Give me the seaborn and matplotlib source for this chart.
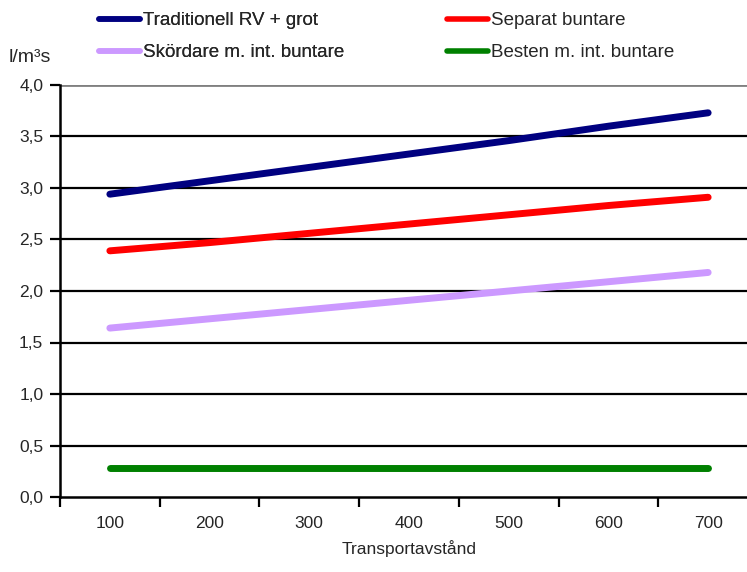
import numpy as np
import pandas as pd
import matplotlib
matplotlib.use("Agg")
import matplotlib.pyplot as plt
import seaborn as sns

# ================================
#  Data
# ================================
distances = ["100", "200", "300", "400", "500", "600", "700"]
traditionell = [2.94, 3.07, 3.20, 3.33, 3.46, 3.60, 3.73]
separat = [2.39, 2.47, 2.56, 2.65, 2.74, 2.83, 2.91]
skordare = [1.64, 1.73, 1.82, 1.91, 2.00, 2.09, 2.18]
besten = [0.28, 0.28, 0.28, 0.28, 0.28, 0.28, 0.28]

series_names = ["Traditionell RV + grot", "Separat buntare",
                "Skördare m. int. buntare", "Besten m. int. buntare"]
colors = ["#000080", "#FF0000", "#CC99FF", "#008000"]

df = pd.DataFrame({
    "Transportavstånd": distances * 4,
    "value": traditionell + separat + skordare + besten,
    "serie": np.repeat(series_names, len(distances)),
})

# ================================
#  Plot
# ================================
sns.set_style("white")
plt.rcParams["font.family"] = ["Liberation Sans", "DejaVu Sans"]
plt.rcParams["font.size"] = 12.5

fig = plt.figure(figsize=(7.47, 5.72), dpi=100)
ax = fig.add_axes([60 / 747, 1 - 497 / 572, 698 / 747, 412 / 572])

sns.lineplot(data=df, x="Transportavstånd", y="value", hue="serie",
             hue_order=series_names, palette=colors, linewidth=5,
             solid_capstyle="round", ax=ax, legend=True)

ax.set_xlim(-0.5, len(distances) - 0.5)
ax.set_ylim(0, 4.0)

# y ticks with comma decimals
yt = np.arange(0, 4.01, 0.5)
ax.set_yticks(yt)
ax.set_yticklabels([f"{v:.1f}".replace(".", ",") for v in yt])
for v in yt[1:]:
    ax.axhline(v, color="#808080" if v == 4.0 else "black",
               lw=2.0 if v == 4.0 else 1.6, zorder=0)

# x: labels at category centres, tick marks on boundaries
ax.set_xticks(np.arange(-0.5, len(distances), 1.0))
ax.set_xticklabels([])
ax.set_xticks(np.arange(len(distances)), minor=True)
ax.set_xticklabels(distances, minor=True)
ax.tick_params(axis="x", which="major", direction="out", length=7, width=1.6,
               color="black", bottom=True)
ax.tick_params(axis="x", which="minor", length=0, pad=14)
ax.tick_params(axis="y", direction="out", length=7, width=1.6, color="black",
               left=True, pad=5)

for s in ["top", "right"]:
    ax.spines[s].set_visible(False)
for s in ["left", "bottom"]:
    ax.spines[s].set_color("black")
    ax.spines[s].set_linewidth(1.8)

ax.set_xlabel("Transportavstånd", labelpad=6)
ax.set_ylabel("")
fig.text(9 / 747, 1 - 58 / 572, "l/m³s", ha="left", va="center", fontsize=14)

# legend: two columns above the plot, placed one column at a time
handles, labels = ax.get_legend_handles_labels()
ax.get_legend().remove()
for h in handles:
    h.set_linewidth(4)
leg_kw = dict(loc="upper left", frameon=False, handlelength=2.2,
              handletextpad=0.15, labelspacing=0.8, borderaxespad=0,
              borderpad=0, fontsize=13.5)
leg1 = fig.legend([handles[0], handles[2]], [labels[0], labels[2]],
                  bbox_to_anchor=(99 / 747, 1 - 12 / 572), **leg_kw)
fig.add_artist(leg1)
fig.legend([handles[1], handles[3]], [labels[1], labels[3]],
           bbox_to_anchor=(447 / 747, 1 - 12 / 572), **leg_kw)

fig.savefig("out.png", dpi=100)
